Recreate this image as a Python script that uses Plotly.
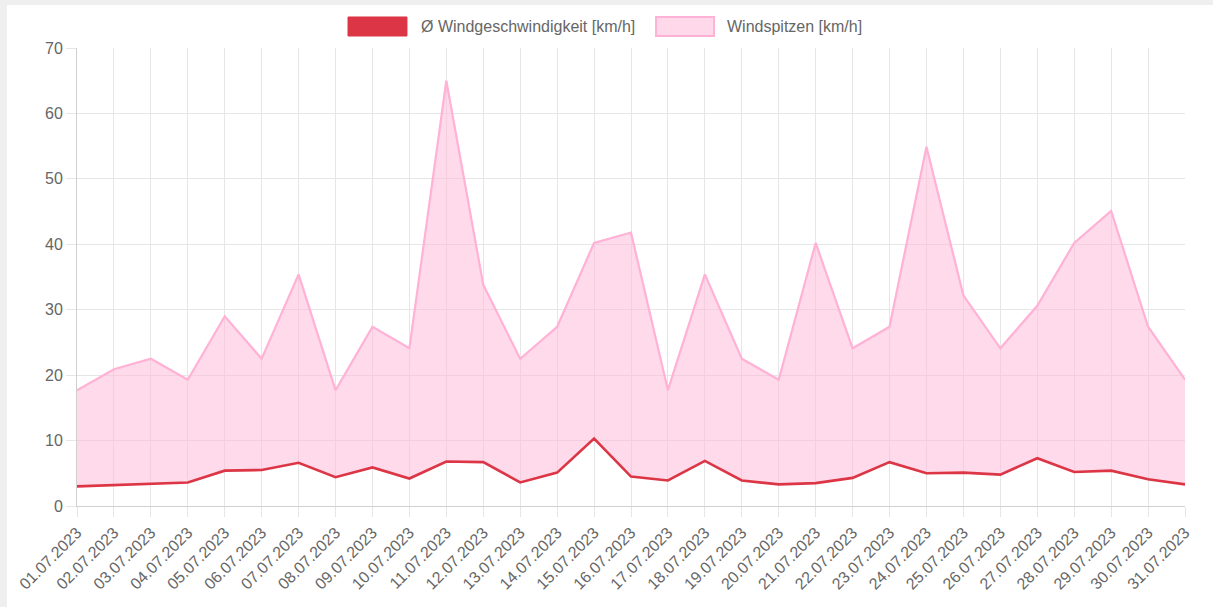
import plotly.graph_objects as go

dates = [f"{d:02d}.07.2023" for d in range(1, 32)]
avg_speed = [3.0, 3.2, 3.5, 3.6, 5.4, 5.5, 6.6, 4.4, 5.9, 4.2, 6.8, 6.7, 3.6, 5.1, 10.3,
             4.5, 3.9, 6.9, 3.9, 3.3, 3.5, 4.3, 6.7, 5.0, 5.1, 4.8, 7.3, 5.2, 5.4, 4.1, 3.3]
gusts = [17.7, 20.9, 22.5, 19.3, 29.0, 22.5, 35.4, 17.7, 27.4, 24.1, 65.0, 33.8, 22.5, 27.4, 40.2,
         41.8, 17.7, 35.4, 22.5, 19.3, 40.2, 24.1, 27.4, 54.9, 32.2, 24.1, 30.6, 40.2, 45.1, 27.4, 19.3]
y_ticks = [0, 10, 20, 30, 40, 50, 60, 70]
series_names = ["Ø Windgeschwindigkeit [km/h]", "Windspitzen [km/h]"]

RED = "#dc3545"
PINK_LINE = "#ffb1d6"
PINK_FILL = "rgba(255,182,213,0.5)"
FONT = "Liberation Sans, Arial, Helvetica, sans-serif"
GRID = "#e6e6e6"

fig = go.Figure()
fig.add_trace(go.Scatter(x=dates, y=avg_speed, mode="lines", name=series_names[0],
                         line=dict(color=RED, width=2.6)))
fig.add_trace(go.Scatter(x=dates, y=gusts, mode="lines", name=series_names[1],
                         line=dict(color=PINK_LINE, width=2.2), fill="tonexty", fillcolor=PINK_FILL))

# manual legend (box style as in reference)
fig.add_shape(type="rect", xref="paper", yref="paper", x0=0.2446, x1=0.2978, y0=1.0262, y1=1.0677,
              fillcolor=RED, line=dict(color=RED, width=1))
fig.add_annotation(xref="paper", yref="paper", x=0.3087, y=1.047, xanchor="left", yanchor="middle",
                   text=series_names[0], showarrow=False, font=dict(size=16, color="#666"))
fig.add_shape(type="rect", xref="paper", yref="paper", x0=0.5226, x1=0.5749, y0=1.0262, y1=1.0677,
              fillcolor="#ffd9ea", line=dict(color=PINK_LINE, width=2))
fig.add_annotation(xref="paper", yref="paper", x=0.5848, y=1.047, xanchor="left", yanchor="middle",
                   text=series_names[1], showarrow=False, font=dict(size=16, color="#666"))

# page frame strips (outer gray edge)
fig.add_shape(type="rect", xref="paper", yref="paper", x0=-0.08, x1=1.04, y0=1.094, y1=1.11,
              fillcolor="#efefef", line_width=0, layer="below")
fig.add_shape(type="rect", xref="paper", yref="paper", x0=-0.08, x1=-0.0632, y0=-0.23, y1=1.11,
              fillcolor="#efefef", line_width=0, layer="below")

fig.update_layout(
    width=1213, height=607,
    margin=dict(l=77, r=28, t=48, b=101, autoexpand=False),
    paper_bgcolor="white", plot_bgcolor="white",
    font=dict(family=FONT, size=16, color="#666"),
    showlegend=False,
    xaxis=dict(type="category", range=[0, 30], showgrid=True, gridcolor=GRID, gridwidth=1,
               tickangle=-45, ticks="outside", ticklen=10, tickcolor=GRID, automargin=False,
               showline=True, linecolor="#d0d0d0", linewidth=1, mirror=False,
               tickfont=dict(size=16, color="#666"), zeroline=False),
    yaxis=dict(range=[0, 70], tickvals=y_ticks, showgrid=True, gridcolor=GRID, gridwidth=1,
               ticks="outside", ticklen=10, tickcolor=GRID, automargin=False,
               showline=True, linecolor="#d0d0d0", linewidth=1, zeroline=False,
               tickfont=dict(size=16, color="#666")),
    hovermode=False,
)

fig.write_html("out.html", config={"displayModeBar": False},
               post_script="document.body.style.margin='0';document.body.style.overflow='hidden';")
